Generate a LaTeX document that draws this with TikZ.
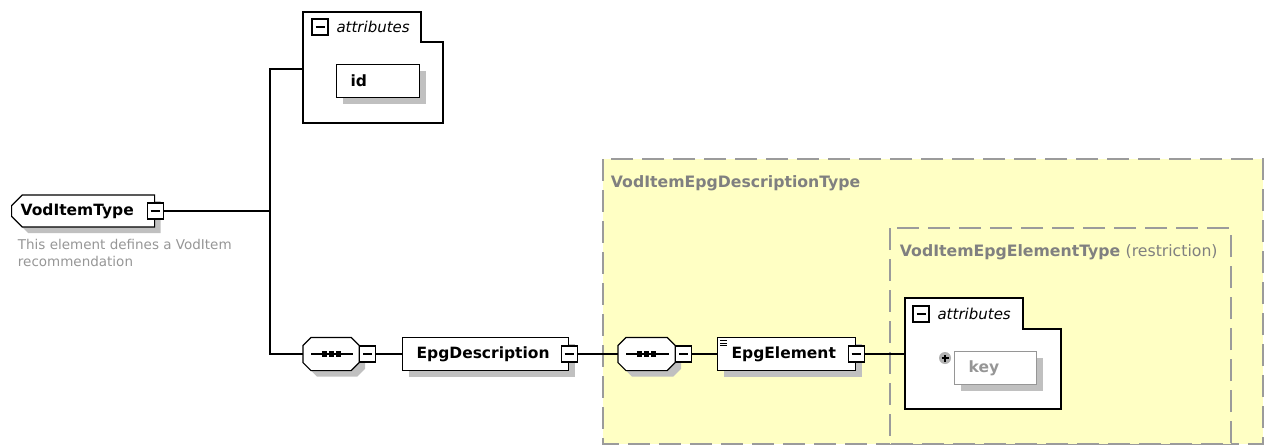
\documentclass[tikz,border=0pt]{standalone}
\usepackage{fontspec}
\setmainfont{DejaVu Sans}
\usetikzlibrary{shapes.misc, shadows, positioning}

\definecolor{typefill}{RGB}{255,255,196}
\definecolor{typeline}{RGB}{155,155,155}
\definecolor{typetext}{RGB}{128,128,128}
\definecolor{notegray}{RGB}{150,150,150}
\definecolor{shadowgray}{RGB}{192,192,192}

% octagon with the three dots of a sequence, drawn round a named node
\newcommand\seqmark[1]{%
    \draw[fill=white, shadowed] ([xshift=8pt]#1.north west) -- ([xshift=-8pt]#1.north east) -- ([yshift=-8pt]#1.north east)
        -- ([yshift=8pt]#1.south east) -- ([xshift=-8pt]#1.south east) -- ([xshift=8pt]#1.south west)
        -- ([yshift=8pt]#1.south west) -- ([yshift=-8pt]#1.north west) -- cycle;
    \draw ([xshift=8pt]#1.west) -- ([xshift=-6pt]#1.east);
    \foreach \dx in {-7,0,7}
        \fill[black] ([xshift=\dx pt]#1.center) +(-2.6pt,-2.6pt) rectangle +(2.6pt,2.6pt);
}

\begin{document}
\begin{tikzpicture}[
        x=1pt, y=-1pt,
        line width=1.2pt,
        lbl/.style={font=\fontsize{15.5pt}{18pt}\selectfont\bfseries},
        shadowed/.style={drop shadow={shadow xshift=6pt, shadow yshift=-6pt, fill=shadowgray, opacity=1}},
        elem/.style={rectangle, draw, fill=white, shadowed, lbl, minimum height=33pt, inner xsep=14pt, align=left},
        root/.style={chamfered rectangle, chamfered rectangle corners={north west, south west}, chamfered rectangle xsep=7pt,
            draw, fill=white, shadowed, lbl, minimum height=32pt, inner xsep=2pt, align=left},
        seqbox/.style={rectangle, minimum width=55pt, minimum height=32pt, inner sep=0pt},
        collapse/.style={rectangle, draw, fill=white, minimum size=16pt, inner sep=0pt, line width=1.2pt,
            path picture={\draw[line width=1.1pt] ([xshift=3.5pt]path picture bounding box.west) -- ([xshift=-3.5pt]path picture bounding box.east);}},
        expand/.style={circle, fill=black!30, minimum size=12pt, inner sep=0pt,
            path picture={
                \draw[black, line width=1.1pt] ([xshift=-3.5pt]path picture bounding box.center) -- ([xshift=3.5pt]path picture bounding box.center);
                \draw[black, line width=1.1pt] ([yshift=-3.5pt]path picture bounding box.center) -- ([yshift=3.5pt]path picture bounding box.center);
            }},
        attrbox/.style={draw, fill=white},
        attrlbl/.style={font=\fontsize{15pt}{18pt}\selectfont\itshape},
        note/.style={font=\fontsize{13.5pt}{17pt}\selectfont, text=notegray, align=left},
        typebox/.style={draw=typeline, fill=typefill, line width=1.8pt, dash pattern=on 22pt off 9pt},
        typelbl/.style={font=\fontsize{15.7pt}{18pt}\selectfont\bfseries, text=typetext, anchor=west},
        wire/.style={line width=1.2pt}
    ]
    \useasboundingbox (0,0) rectangle (1271,445);

    % complex types as dashed frames
    \draw[typebox] (603,159) rectangle (1263,444);
    \node[typelbl] (desctype) at (607,183) {VodItemEpgDescriptionType};
    \draw[typebox] (890,228) rectangle (1231,444);
    \node[typelbl] (elemtype) at (896,252) {VodItemEpgElementType \mdseries(restriction)};

    % root element
    \node[root, text width=125pt, anchor=west] (vod) at (11,211) {VodItemType};
    \node[collapse] (vodcol) at (vod.east) {};
    \node[note, anchor=north west] (vodnote) at (14,235) {This element defines a VodItem\\recommendation};
    \coordinate (trunk) at (270,211);

    % attributes of the root
    \draw[attrbox] (303,12) -- (421,12) -- (421,42) -- (443,42) -- (443,123) -- (303,123) -- cycle;
    \coordinate (attrs1) at (303,69);
    \node[collapse] (attrs1col) at (320,27) {};
    \node[attrlbl, right=4pt of attrs1col] {attributes};
    \node[elem, text width=55pt, anchor=north west] (id) at (336,64) {id};

    % sequence with EpgDescription
    \node[seqbox, anchor=west] (seq1) at (303,354) {};
    \seqmark{seq1}
    \node[collapse, anchor=west] (seq1col) at (seq1.east) {};
    \node[elem, text width=138pt, anchor=west] (epgdesc) at (402,354) {EpgDescription};
    \node[collapse] (epgdesccol) at (epgdesc.east) {};

    % inner sequence with EpgElement
    \node[seqbox, minimum width=56pt, anchor=west] (seq2) at (618,354) {};
    \seqmark{seq2}
    \node[collapse, anchor=west] (seq2col) at (seq2.east) {};
    \node[elem, text width=110pt, anchor=west] (epgelem) at (717,354) {EpgElement};
    \foreach \dy in {4,6.5,9}
        \draw[line width=0.9pt] ([xshift=3pt, yshift=-\dy pt]epgelem.north west) -- ++(7,0);
    \node[collapse] (epgelemcol) at (epgelem.east) {};

    % attributes of EpgElement
    \draw[attrbox] (905,298) -- (1023,298) -- (1023,329) -- (1061,329) -- (1061,409) -- (905,409) -- cycle;
    \coordinate (attrs2) at (905,354);
    \node[collapse] (attrs2col) at (921,314) {};
    \node[attrlbl, right=4pt of attrs2col] {attributes};
    \node[elem, draw=notegray, text=notegray, text width=54pt, anchor=north west] (key) at (954,351) {key};
    \node[expand] (keyplus) at (945,358) {};

    % connectors
    \draw[wire] (vodcol) -- (trunk);
    \draw[wire] (trunk) |- (attrs1);
    \draw[wire] (trunk) |- (seq1);
    \draw[wire] (seq1col) -- (epgdesc);
    \draw[wire] (epgdesccol) -- (seq2);
    \draw[wire] (seq2col) -- (epgelem);
    \draw[wire] (epgelemcol) -- (attrs2);
\end{tikzpicture}
\end{document}
